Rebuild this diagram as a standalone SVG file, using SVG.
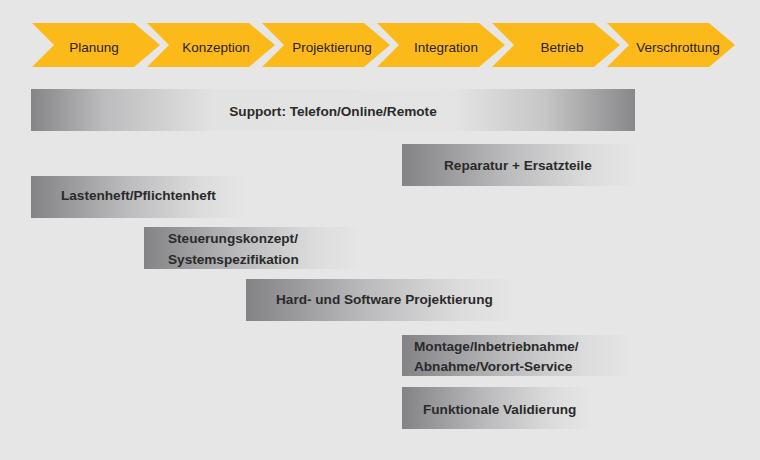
<svg xmlns="http://www.w3.org/2000/svg" width="760" height="460" viewBox="0 0 760 460">
<defs>
<style>
.chev{fill:#fcb91a}
.ct{font-family:"Liberation Sans",Arial,sans-serif;font-size:13.5px;fill:#2a2418;text-anchor:middle}
.bt{font-family:"Liberation Sans",Arial,sans-serif;font-size:13.6px;font-weight:bold;fill:#2a2a2a}
</style>
<linearGradient id="gL" x1="0" y1="0" x2="1" y2="0">
<stop offset="0" stop-color="#838385"/>
<stop offset="0.45" stop-color="#bbbbbd"/>
<stop offset="0.8" stop-color="#dcdcdd"/>
<stop offset="1" stop-color="#e5e5e5"/>
</linearGradient>
<linearGradient id="gS" x1="0" y1="0" x2="1" y2="0">
<stop offset="0" stop-color="#858587"/>
<stop offset="0.12" stop-color="#bcbcbe"/>
<stop offset="0.3" stop-color="#e2e2e2"/>
<stop offset="0.7" stop-color="#e4e4e4"/>
<stop offset="0.85" stop-color="#c6c6c7"/>
<stop offset="1" stop-color="#88888a"/>
</linearGradient>
</defs>
<rect x="0" y="0" width="760" height="460" fill="#e6e6e6"/>
<g id="phase-planung"><polygon class="chev" points="32,23 134,23 160,45 134,67 32,67 54,45"/><text class="ct" x="94" y="52">Planung</text></g>
<g id="phase-konzeption"><polygon class="chev" points="147,23 249,23 275,45 249,67 147,67 169,45"/><text class="ct" x="216" y="52">Konzeption</text></g>
<g id="phase-projektierung"><polygon class="chev" points="262,23 364,23 390,45 364,67 262,67 284,45"/><text class="ct" x="332" y="52">Projektierung</text></g>
<g id="phase-integration"><polygon class="chev" points="377,23 479,23 505,45 479,67 377,67 399,45"/><text class="ct" x="446" y="52">Integration</text></g>
<g id="phase-betrieb"><polygon class="chev" points="492,23 594,23 620,45 594,67 492,67 514,45"/><text class="ct" x="562" y="52">Betrieb</text></g>
<g id="phase-verschrottung"><polygon class="chev" points="607,23 709,23 735,45 709,67 607,67 629,45"/><text class="ct" x="678" y="52">Verschrottung</text></g>

<g id="bar-support"><rect x="31" y="89" width="604" height="42" fill="url(#gS)"/><text class="bt" x="333" y="116" text-anchor="middle">Support: Telefon/Online/Remote</text></g>
<g id="bar-reparatur"><rect x="402" y="144" width="233" height="42" fill="url(#gL)"/><text class="bt" x="444" y="170">Reparatur + Ersatzteile</text></g>
<g id="bar-lastenheft"><rect x="31" y="176" width="212" height="42" fill="url(#gL)"/><text class="bt" x="61" y="200">Lastenheft/Pflichtenheft</text></g>
<g id="bar-steuerung"><rect x="144" y="227" width="213" height="42" fill="url(#gL)"/><text class="bt" x="168" y="243">Steuerungskonzept/</text><text class="bt" x="168" y="264">Systemspezifikation</text></g>
<g id="bar-hardsoft"><rect x="246" y="279" width="267" height="42" fill="url(#gL)"/><text class="bt" x="276" y="304">Hard- und Software Projektierung</text></g>
<g id="bar-montage"><rect x="402" y="335" width="228" height="41" fill="url(#gL)"/><text class="bt" x="414" y="351">Montage/Inbetriebnahme/</text><text class="bt" x="414" y="371">Abnahme/Vorort-Service</text></g>
<g id="bar-validierung"><rect x="402" y="387" width="188" height="42" fill="url(#gL)"/><text class="bt" x="423" y="414">Funktionale Validierung</text></g>
<g id="connectors"/>
</svg>
